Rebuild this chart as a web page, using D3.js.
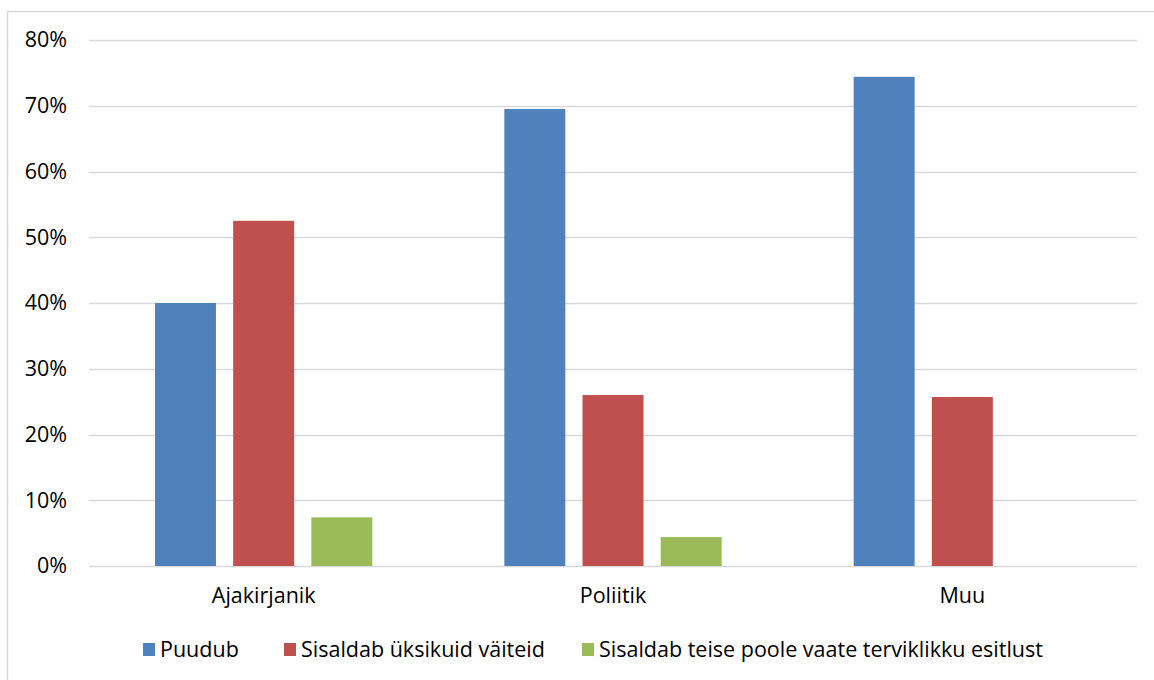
<!DOCTYPE html>
<html>
<head>
<meta charset="utf-8">
<script src="https://cdn.jsdelivr.net/npm/d3@7"></script>
<style>
  html, body { margin: 0; padding: 0; background: #fff; }
  svg { display: block; }
  text { font-family: "Open Sans", sans-serif; fill: #000; }
</style>
</head>
<body>
<svg id="chart" width="1154" height="680"></svg>
<script>
// Categories and series (share of items, %)
const categories = ["Ajakirjanik", "Poliitik", "Muu"];
const seriesNames = ["Puudub", "Sisaldab üksikuid väiteid", "Sisaldab teise poole vaate terviklikku esitlust"];
const puudub = [40.0, 69.5, 74.4];
const yksikud = [52.5, 26.0, 25.7];
const terviklik = [7.4, 4.4, 0];
const seriesColors = ["#4f81bd", "#c0504d", "#9bbb59"];
const yTicks = [0, 10, 20, 30, 40, 50, 60, 70, 80];

const seriesValues = [puudub, yksikud, terviklik];
const FONT = "'Open Sans', sans-serif";

const svg = d3.select("#chart");

// Chart-area frame
svg.append("rect")
  .attr("x", 7.5).attr("y", 11.5)
  .attr("width", 1160).attr("height", 700)
  .attr("fill", "none")
  .attr("stroke", "#d9d9d9")
  .attr("stroke-width", 1.5);

const plot = { left: 89, right: 1137, top: 40, bottom: 566 };

const y = d3.scaleLinear().domain([0, 80]).range([plot.bottom, plot.top]);
const x0 = d3.scaleBand().domain(categories).range([plot.left, plot.right]).paddingInner(0).paddingOuter(0);
const x1 = d3.scaleBand().domain(d3.range(seriesNames.length))
  .range([66, x0.bandwidth() - 66]).paddingInner(0.22).paddingOuter(0);

// Gridlines
svg.append("g").selectAll("line")
  .data(yTicks)
  .join("line")
  .attr("x1", plot.left).attr("x2", plot.right)
  .attr("y1", d => Math.round(y(d)) + 0.5).attr("y2", d => Math.round(y(d)) + 0.5)
  .attr("stroke", "#d9d9d9")
  .attr("stroke-width", 1.5);

// Y axis labels
const yAxis = d3.axisLeft(y).tickValues(yTicks).tickFormat(d => d + "%").tickSize(0).tickPadding(0);
const gy = svg.append("g").attr("transform", `translate(67,0)`).call(yAxis);
gy.select(".domain").remove();
gy.selectAll("text").attr("font-size", 21.5).attr("font-family", FONT).attr("fill", "#000");

// Bars
const groups = svg.append("g").selectAll("g")
  .data(categories)
  .join("g")
  .attr("transform", d => `translate(${x0(d)},0)`);

groups.selectAll("rect")
  .data((c, ci) => seriesValues.map((vals, si) => ({ si, v: vals[ci] })))
  .join("rect")
  .attr("x", d => x1(d.si))
  .attr("width", x1.bandwidth())
  .attr("y", d => y(d.v))
  .attr("height", d => y(0) - y(d.v))
  .attr("fill", d => seriesColors[d.si]);

// Category labels
const xAxis = d3.axisBottom(x0).tickSize(0).tickPadding(0);
const gx = svg.append("g").attr("transform", `translate(0,588)`).call(xAxis);
gx.select(".domain").remove();
gx.selectAll("text").attr("font-size", 21.5).attr("font-family", FONT).attr("fill", "#000");

// Legend
const legendX = [143, 284, 582];
const legend = svg.append("g").selectAll("g")
  .data(seriesNames)
  .join("g")
  .attr("transform", (d, i) => `translate(${legendX[i]},643)`);
legend.append("rect")
  .attr("width", 12).attr("height", 13)
  .attr("fill", (d, i) => seriesColors[i]);
legend.append("text")
  .attr("x", 17).attr("y", 6)
  .attr("dy", "0.35em")
  .attr("font-size", 21.5)
  .attr("font-family", FONT)
  .text(d => d);
</script>
</body>
</html>
